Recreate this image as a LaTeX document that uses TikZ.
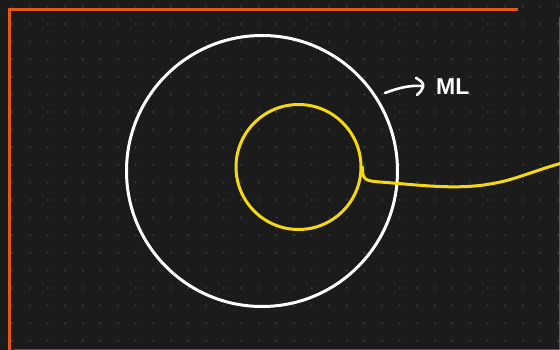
\documentclass[tikz,border=0pt]{standalone}
\usepackage{fontspec}
\setmainfont{Liberation Sans}
\usetikzlibrary{arrows.meta}
\definecolor{bg}{HTML}{1B1B1B}
\definecolor{griddot}{HTML}{414141}
\definecolor{frameor}{HTML}{E8580C}
\definecolor{framedark}{HTML}{A8440F}
\definecolor{ylw}{HTML}{F5D80E}
\tikzset{
  ring/.style={circle, draw, line width=3pt, inner sep=0pt},
  handline/.style={line width=3pt, line cap=round, line join=round},
}
\begin{document}
\begin{tikzpicture}[x=1pt,y=-1pt]
\useasboundingbox (0,0) rectangle (560,350);
\fill[bg] (0,0) rectangle (560,350);
\foreach \i in {0,...,31}{
  \foreach \j in {0,...,19}{
    \fill[griddot] (12.5+17.6*\i, 6.4+17.6*\j) circle (1.1pt);
  }
}
% orange frame
\draw[frameor, line width=3pt] (8,10) -- (518,10);
\draw[frameor, line width=3pt] (9,10) -- (9,350);
\draw[framedark, line width=1.2pt] (559.4,17) -- (559.4,350);
\draw[framedark, line width=1.2pt] (14,349.4) -- (560,349.4);
% circles
\node[ring, white, minimum size=271pt] (outer) at (262,171) {};
\node[ring, ylw, minimum size=125pt] (inner) at (298.5,167) {};
% yellow tail
\coordinate (tailend) at (562,163);
\draw[ylw, handline] (inner.east) .. controls (362,180) and (366,181) .. (380,182)
  .. controls (420,185) and (455,190) .. (490,184)
  .. controls (515,180) and (530,172) .. (tailend);
% annotation
\node[white, font=\fontsize{23}{23}\selectfont\bfseries, inner sep=0pt, anchor=west] (ml) at (436,87) {ML};
\coordinate (arrstart) at (385,93);
\draw[white, handline, line width=2.6pt] (arrstart) .. controls (398,88) and (410,85) .. (422,86);
\draw[white, handline, line width=2.6pt] (416,78) .. controls (422,81) and (424,84) .. (423,87) .. controls (422,90) and (420,93) .. (417,95);
\end{tikzpicture}
\end{document}
